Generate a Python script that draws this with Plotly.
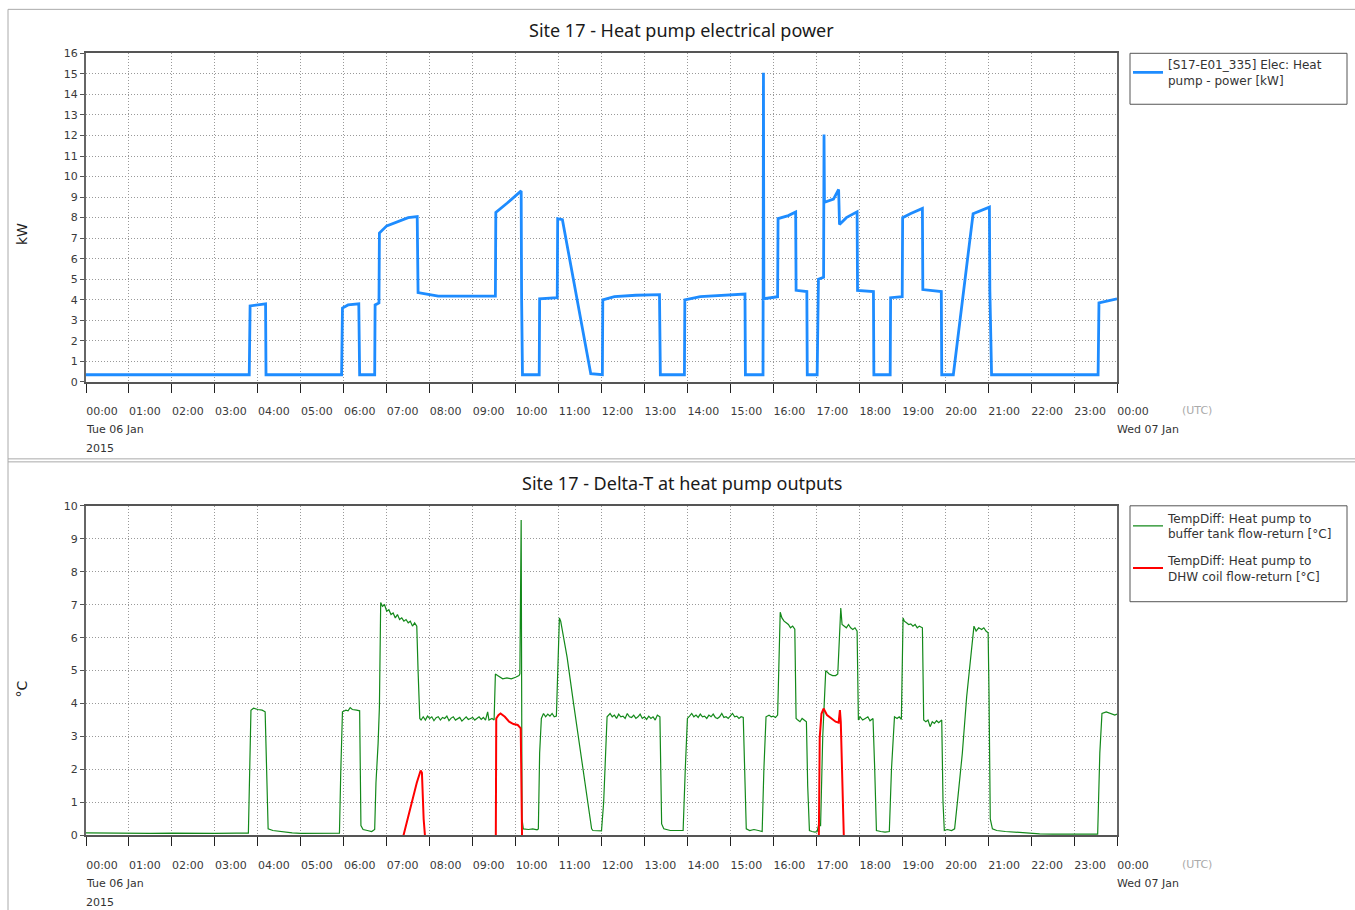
import plotly.graph_objects as go

# the page is photographed from a slightly larger viewport and scaled down to 1355x910,
# so the figure is drawn at that size and positions (given in photo pixels) are mapped in px()/py()
W, H = 1387, 922
SHOT_W, SHOT_H = 1355, 910
TOP_OFFSET = 4.7
FONT = "DejaVu Sans"
TITLE_FONT = "Noto Sans"

# x positions are hours after 00:00 Tue 06 Jan 2015 (UTC)
hour_ticks = [0, 1, 2, 3, 4, 5, 6, 7, 8, 9, 10, 11, 12, 13, 14, 15, 16, 17, 18, 19, 20, 21, 22, 23, 24]
hour_labels = ["00:00", "01:00", "02:00", "03:00", "04:00", "05:00", "06:00", "07:00", "08:00",
               "09:00", "10:00", "11:00", "12:00", "13:00", "14:00", "15:00", "16:00", "17:00",
               "18:00", "19:00", "20:00", "21:00", "22:00", "23:00", "00:00"]

# heat pump electrical power [kW]
power_t = [0.0, 3.8, 3.82, 4.0, 4.18, 4.19, 5.95, 5.97, 6.1, 6.35, 6.37, 6.72, 6.73, 6.82, 6.83,
           7.0, 7.3, 7.5, 7.71, 7.73, 8.0, 8.2, 9.53, 9.54, 9.8, 10.13, 10.14, 10.16, 10.55, 10.56,
           10.97, 10.98, 11.09, 11.75, 12.02, 12.03, 12.3, 12.8, 13.35, 13.37, 13.93, 13.94, 14.3,
           14.8, 15.34, 15.35, 15.76, 15.77, 15.78, 16.1, 16.11, 16.35, 16.52, 16.53, 16.78, 16.79,
           17.02, 17.05, 17.17, 17.18, 17.19, 17.4, 17.52, 17.54, 17.7, 17.95, 17.96, 18.33, 18.34,
           18.72, 18.73, 19.0, 19.01, 19.2, 19.47, 19.48, 19.91, 19.92, 20.19, 20.65, 21.03, 21.04,
           21.08, 23.56, 23.58, 24.0]
power_kw = [0.35, 0.35, 3.7, 3.75, 3.8, 0.35, 0.35, 3.6, 3.75, 3.8, 0.35, 0.35, 3.75, 3.85, 7.25,
            7.6, 7.85, 8.0, 8.05, 4.35, 4.25, 4.18, 4.18, 8.25, 8.7, 9.3, 4.07, 0.35, 0.35, 4.05,
            4.1, 7.95, 7.9, 0.4, 0.35, 4.0, 4.15, 4.22, 4.25, 0.35, 0.35, 4.0, 4.15,
            4.22, 4.28, 0.35, 0.35, 15.05, 4.05, 4.15, 7.95, 8.1, 8.27, 4.46, 4.4, 0.35,
            0.35, 5.0, 5.1, 12.05, 8.75, 8.9, 9.37, 7.67, 8.0, 8.28, 4.46, 4.4, 0.35,
            0.35, 4.1, 4.15, 8.0, 8.2, 8.45, 4.5, 4.4, 0.35, 0.35, 8.19, 8.51, 4.5,
            0.35, 0.35, 3.85, 4.05]

# delta-T heat pump to buffer tank [degC]
buffer_t = [0.0, 0.5, 1.0, 1.5, 2.0, 2.5, 3.0, 3.5, 3.78, 3.84, 3.9, 4.0, 4.1, 4.17, 4.2, 4.24,
            4.35, 4.5, 4.8, 5.0, 5.5, 5.9, 5.93, 5.97, 6.05, 6.1, 6.15, 6.2, 6.3, 6.37, 6.4, 6.45,
            6.55, 6.65, 6.72, 6.75, 6.8, 6.83, 6.86, 6.9, 6.95, 7.0, 7.05, 7.1, 7.15, 7.2, 7.25,
            7.3, 7.35, 7.4, 7.45, 7.5, 7.55, 7.6, 7.65, 7.7, 7.73, 7.77, 7.8, 7.85, 7.9, 7.95,
            8.0, 8.05, 8.1, 8.15, 8.2, 8.25, 8.3, 8.35, 8.4, 8.45, 8.5, 8.55, 8.6, 8.65, 8.7,
            8.75, 8.8, 8.85, 8.9, 8.95, 9.0, 9.05, 9.1, 9.15, 9.2, 9.25, 9.3, 9.35, 9.38, 9.45,
            9.5, 9.53, 9.58, 9.65, 9.7, 9.8, 9.9, 10.0, 10.08, 10.1, 10.12, 10.13, 10.15, 10.18,
            10.3, 10.4, 10.5, 10.53, 10.56, 10.6, 10.65, 10.7, 10.75, 10.8, 10.85, 10.9, 10.95,
            10.98, 11.02, 11.05, 11.2, 11.35, 11.5, 11.65, 11.77, 11.8, 11.9, 12.0, 12.05, 12.1,
            12.13, 12.2, 12.25, 12.3, 12.35, 12.4, 12.45, 12.5, 12.55, 12.6, 12.65, 12.7, 12.75,
            12.8, 12.85, 12.9, 12.95, 13.0, 13.05, 13.1, 13.15, 13.2, 13.25, 13.3, 13.36, 13.4,
            13.45, 13.6, 13.8, 13.9, 13.95, 14.0, 14.05, 14.1, 14.15, 14.2, 14.25, 14.3, 14.35,
            14.4, 14.45, 14.5, 14.55, 14.6, 14.65, 14.7, 14.75, 14.8, 14.85, 14.9, 14.95, 15.0,
            15.05, 15.1, 15.15, 15.2, 15.25, 15.3, 15.33, 15.37, 15.45, 15.55, 15.65, 15.74,
            15.78, 15.83, 15.9, 15.95, 16.0, 16.05, 16.1, 16.13, 16.16, 16.2, 16.25, 16.3, 16.35,
            16.4, 16.45, 16.5, 16.53, 16.57, 16.62, 16.67, 16.72, 16.77, 16.8, 16.84, 16.9,
            16.97, 17.02, 17.05, 17.1, 17.15, 17.22, 17.3, 17.38, 17.45, 17.5, 17.53, 17.57,
            17.6, 17.65, 17.7, 17.75, 17.8, 17.85, 17.9, 17.95, 17.98, 18.02, 18.08, 18.14, 18.2,
            18.25, 18.32, 18.36, 18.4, 18.5, 18.6, 18.7, 18.75, 18.82, 18.88, 18.93, 18.98,
            19.02, 19.05, 19.1, 19.15, 19.2, 19.25, 19.3, 19.35, 19.4, 19.47, 19.5, 19.55, 19.6,
            19.65, 19.7, 19.75, 19.8, 19.85, 19.92, 19.95, 19.98, 20.05, 20.15, 20.22, 20.3,
            20.4, 20.5, 20.6, 20.67, 20.72, 20.78, 20.85, 20.9, 20.95, 21.0, 21.02, 21.05, 21.1,
            21.2, 21.4, 21.6, 21.8, 22.0, 22.2, 22.5, 22.8, 23.1, 23.4, 23.55, 23.6, 23.65,
            23.75, 23.85, 23.95, 24.0]
buffer_c = [0.08, 0.07, 0.08, 0.06, 0.07, 0.06, 0.06, 0.07, 0.07, 3.8, 3.86, 3.82, 3.8, 3.75, 2.0,
            0.2, 0.15, 0.12, 0.08, 0.06, 0.06, 0.07, 1.9, 3.75, 3.8, 3.78, 3.88, 3.82, 3.8, 3.78,
            0.3, 0.18, 0.15, 0.12, 0.18, 1.6, 2.8, 3.9, 7.07, 6.95, 7.0, 6.8, 6.85, 6.7, 6.75,
            6.6, 6.7, 6.55, 6.6, 6.5, 6.55, 6.45, 6.5, 6.35, 6.45, 6.35, 5.0, 3.55, 3.5, 3.6,
            3.5, 3.62, 3.55, 3.6, 3.48, 3.57, 3.6, 3.5, 3.58, 3.55, 3.62, 3.48, 3.56, 3.6, 3.5,
            3.55, 3.58, 3.47, 3.55, 3.6, 3.52, 3.55, 3.58, 3.5, 3.55, 3.6, 3.52, 3.58, 3.5, 3.75,
            3.5, 3.55, 3.5, 4.9, 4.85, 4.8, 4.75, 4.78, 4.75, 4.8, 4.85, 4.9, 7.9, 9.57, 0.5, 0.2,
            0.18, 0.2, 0.17, 0.2, 2.5, 3.55, 3.7, 3.6, 3.68, 3.62, 3.7, 3.6, 3.62, 5.2, 6.6, 6.5,
            5.4, 4.0, 2.6, 1.2, 0.2, 0.15, 0.15, 0.14, 1.0, 3.0, 3.6, 3.7, 3.6, 3.65, 3.55, 3.68,
            3.6, 3.62, 3.55, 3.7, 3.6, 3.58, 3.65, 3.55, 3.6, 3.68, 3.55, 3.6, 3.52, 3.62, 3.55,
            3.6, 3.5, 3.65, 3.6, 0.35, 0.2, 0.15, 0.14, 0.15, 2.0, 3.55, 3.62, 3.7, 3.6, 3.65,
            3.58, 3.68, 3.6, 3.62, 3.55, 3.65, 3.6, 3.68, 3.58, 3.55, 3.6, 3.7, 3.58, 3.6, 3.55,
            3.62, 3.7, 3.6, 3.62, 3.55, 3.6, 3.58, 2.0, 0.2, 0.15, 0.18, 0.15, 0.12, 2.0, 3.6,
            3.65, 3.6, 3.62, 3.58, 3.65, 5.0, 6.77, 6.6, 6.5, 6.45, 6.4, 6.3, 6.35, 6.26, 3.55,
            3.5, 3.45, 3.55, 3.5, 3.45, 1.5, 0.15, 0.12, 0.1, 0.12, 0.3, 0.3, 3.0, 5.0, 4.9,
            4.85, 4.85, 4.9, 6.0, 6.9, 6.4, 6.35, 6.3, 6.4, 6.3, 6.25, 6.3, 6.2, 3.5, 3.6, 3.5,
            3.55, 3.6, 3.48, 3.55, 2.0, 0.15, 0.12, 0.1, 0.12, 2.0, 3.6, 3.55, 3.6, 3.52, 6.6,
            6.5, 6.45, 6.4, 6.42, 6.35, 6.4, 6.3, 6.35, 6.3, 3.5, 3.45, 3.5, 3.3, 3.45, 3.4,
            3.48, 3.42, 3.5, 1.0, 0.15, 0.18, 0.15, 0.2, 1.2, 2.5, 4.2, 5.6, 6.35, 6.2, 6.3,
            6.25, 6.3, 6.2, 6.15, 4.4, 0.5, 0.2, 0.15, 0.12, 0.1, 0.08, 0.06, 0.05, 0.04, 0.04,
            0.03, 0.03, 0.04, 2.5, 3.7, 3.75, 3.7, 3.65, 3.68]

# delta-T heat pump to DHW coil [degC], gaps where the loop is idle
dhw_t = [7.39, 7.5, 7.6, 7.7, 7.79, 7.82, 7.86, 7.89, 7.9,
         9.54, 9.55, 9.6, 9.65, 9.75, 9.85, 9.95, 10.05, 10.12, 10.13, 10.15, 10.16,
         17.06, 17.08, 17.12, 17.17, 17.25, 17.35, 17.45, 17.52, 17.55, 17.57, 17.59, 17.62, 17.64]
dhw_c = [0, 0.6, 1.1, 1.6, 1.97, 1.9, 0.5, 0, None,
         0, 3.55, 3.65, 3.7, 3.6, 3.45, 3.38, 3.35, 3.25, 0.9, 0, None,
         0, 2.98, 3.69, 3.85, 3.65, 3.55, 3.45, 3.42, 3.8, 3.45, 2.1, 0.97, 0]


def px(x):
    return x / SHOT_W


def py(y):
    return 1 - (y * H / SHOT_H - TOP_OFFSET) / H


def main() -> None:
    fig = go.Figure()

    fig.add_trace(go.Scatter(
        x=power_t, y=power_kw, mode='lines', xaxis='x', yaxis='y', legend='legend',
        name='[S17-E01_335] Elec: Heat<br>pump - power [kW]', showlegend=True,
        line=dict(color='#1e8cff', width=2.8),
    ))
    fig.add_trace(go.Scatter(
        x=buffer_t, y=buffer_c, mode='lines', xaxis='x2', yaxis='y2', legend='legend2',
        name='TempDiff: Heat pump to<br>buffer tank flow-return [°C]', showlegend=True,
        legendgroup='buffer', line=dict(color='#13891a', width=1.2),
    ))
    fig.add_trace(go.Scatter(
        x=dhw_t, y=dhw_c, mode='lines', xaxis='x2', yaxis='y2', legend='legend2',
        name='TempDiff: Heat pump to<br>DHW coil flow-return [°C]', showlegend=True,
        legendgroup='dhw', line=dict(color='#ff0000', width=2),
    ))

    xax = dict(
        range=[0, 24], tickmode='array', tickvals=hour_ticks, ticktext=hour_labels,
        ticks='outside', ticklen=9, tickcolor='#222', tickwidth=1,
        showgrid=True, gridcolor='#999999', griddash='1px,2px', gridwidth=1,
        showline=True, linecolor='#555', linewidth=2, mirror=True,
        zeroline=False, ticklabelshift=16, ticklabelstandoff=9,
        tickfont=dict(family=FONT, size=11, color='#3a3a3a'),
        domain=[px(86), px(1117)],
    )
    yax = dict(
        ticks='outside', ticklen=4, tickcolor='#555', dtick=1,
        showgrid=True, gridcolor='#999999', griddash='1px,2px', gridwidth=1,
        showline=True, linecolor='#666', linewidth=2, mirror=True, zeroline=False,
        tickfont=dict(family=FONT, size=11, color='#3a3a3a'),
    )

    frame = dict(color='#aaaaaa', width=1)

    def hline(y):
        return dict(type='line', xref='paper', yref='paper', x0=px(8), x1=1, y0=py(y), y1=py(y), line=frame)

    shapes = [
        hline(8), hline(458), hline(461),
        dict(type='line', xref='paper', yref='paper', x0=px(8), x1=px(8), y0=py(8), y1=0, line=frame),
        dict(type='rect', xref='paper', yref='paper', x0=px(1130), x1=px(1347), y0=py(52), y1=py(103),
             line=dict(color='#555', width=1)),
        dict(type='rect', xref='paper', yref='paper', x0=px(1130), x1=px(1347), y0=py(505), y1=py(601),
             line=dict(color='#555', width=1)),
    ]

    def note(text, x, y, size=11, color='#333', xanchor='left', angle=0, family=FONT):
        return dict(text=text, x=px(x), y=py(y), xref='paper', yref='paper', showarrow=False,
                    xanchor=xanchor, yanchor='middle', textangle=angle,
                    font=dict(family=family, size=size, color=color))

    annotations = []
    for dy in (0, 454):
        annotations += [
            note('Tue 06 Jan', 84, 429 + dy, color='#333'),
            note('2015', 84, 448 + dy, color='#333'),
            note('Wed 07 Jan', 1115, 429 + dy, color='#333'),
            note('(UTC)', 1180, 410 + dy, color='#aaaaaa'),
        ]
    annotations += [
        note('Site 17 - Heat pump electrical power', 682, 29, size=18, color='#1a1a1a',
             xanchor='center', family=TITLE_FONT),
        note('Site 17 - Delta-T at heat pump outputs', 682, 482, size=18, color='#1a1a1a',
             xanchor='center', family=TITLE_FONT),
        note('kW', 22, 233, size=14, color='#222', xanchor='center', angle=-90),
        note('°C', 22, 688, size=14, color='#222', xanchor='center', angle=-90),
    ]

    legend_style = dict(xanchor='left', yanchor='top', bgcolor='rgba(0,0,0,0)', borderwidth=0,
                        font=dict(family=FONT, size=12, color='#333'), itemwidth=30,
                        tracegroupgap=8, visible=True)

    fig.update_layout(
        width=W, height=H, autosize=False, margin=dict(l=0, r=0, t=0, b=0),
        paper_bgcolor='white', plot_bgcolor='white', showlegend=True,
        xaxis=dict(xax, anchor='y'),
        yaxis=dict(yax, range=[0, 16], domain=[py(381), py(52)], anchor='x'),
        xaxis2=dict(xax, anchor='y2'),
        yaxis2=dict(yax, range=[0, 10], domain=[py(835), py(505)], anchor='x2'),
        legend=dict(legend_style, x=px(1128), y=py(49)),
        legend2=dict(legend_style, x=px(1128), y=py(503)),
        shapes=shapes, annotations=annotations,
    )

    fig.write_html(
        'out.html',
        config={'responsive': False, 'displayModeBar': False},
        default_width=f'{W}px', default_height=f'{H}px',
        post_script="document.body.style.margin='0px'; document.body.style.overflow='hidden';",
    )


if __name__ == '__main__':
    main()
